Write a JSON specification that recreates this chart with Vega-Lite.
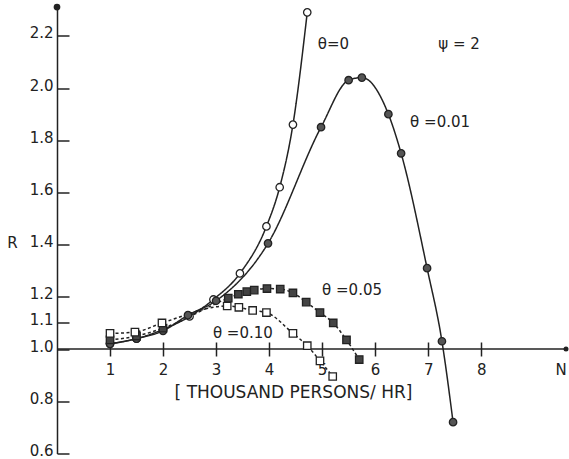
{
  "$schema": "https://vega.github.io/schema/vega-lite/v6.json",
  "width": 509,
  "height": 449,
  "autosize": {"type": "none"},
  "padding": {"left": 57, "top": 4.5, "right": 3, "bottom": 5.5},
  "background": "white",
  "config": {"view": {"stroke": null}, "font": "DejaVu Sans"},
  "datasets": {
    "curves": [
      {"theta": "0", "N": 1, "R": 1.02},
      {"theta": "0", "N": 1.5, "R": 1.04},
      {"theta": "0", "N": 2, "R": 1.075},
      {"theta": "0", "N": 2.5, "R": 1.125},
      {"theta": "0", "N": 2.95, "R": 1.19},
      {"theta": "0", "N": 3.45, "R": 1.29},
      {"theta": "0", "N": 3.95, "R": 1.47},
      {"theta": "0", "N": 4.2, "R": 1.62},
      {"theta": "0", "N": 4.45, "R": 1.86},
      {"theta": "0", "N": 4.72, "R": 2.29},
      {"theta": "0.01", "N": 1, "R": 1.02},
      {"theta": "0.01", "N": 1.5, "R": 1.04},
      {"theta": "0.01", "N": 2, "R": 1.07},
      {"theta": "0.01", "N": 2.47, "R": 1.13},
      {"theta": "0.01", "N": 3, "R": 1.185},
      {"theta": "0.01", "N": 3.98, "R": 1.405},
      {"theta": "0.01", "N": 4.98, "R": 1.85},
      {"theta": "0.01", "N": 5.5, "R": 2.03},
      {"theta": "0.01", "N": 5.75, "R": 2.04},
      {"theta": "0.01", "N": 6.25, "R": 1.9},
      {"theta": "0.01", "N": 6.49, "R": 1.75},
      {"theta": "0.01", "N": 6.98, "R": 1.31},
      {"theta": "0.01", "N": 7.26, "R": 1.03},
      {"theta": "0.01", "N": 7.47, "R": 0.72},
      {"theta": "0.05", "N": 1, "R": 1.035},
      {"theta": "0.05", "N": 1.5, "R": 1.05},
      {"theta": "0.05", "N": 2, "R": 1.08},
      {"theta": "0.05", "N": 3.23, "R": 1.195},
      {"theta": "0.05", "N": 3.42, "R": 1.21},
      {"theta": "0.05", "N": 3.58, "R": 1.22},
      {"theta": "0.05", "N": 3.72, "R": 1.226},
      {"theta": "0.05", "N": 3.96, "R": 1.232},
      {"theta": "0.05", "N": 4.21, "R": 1.23},
      {"theta": "0.05", "N": 4.45, "R": 1.215},
      {"theta": "0.05", "N": 4.7, "R": 1.18},
      {"theta": "0.05", "N": 4.96, "R": 1.14},
      {"theta": "0.05", "N": 5.21, "R": 1.1},
      {"theta": "0.05", "N": 5.46, "R": 1.035},
      {"theta": "0.05", "N": 5.7, "R": 0.96},
      {"theta": "0.10", "N": 1, "R": 1.06},
      {"theta": "0.10", "N": 1.47, "R": 1.065},
      {"theta": "0.10", "N": 1.98, "R": 1.1},
      {"theta": "0.10", "N": 3.21, "R": 1.165},
      {"theta": "0.10", "N": 3.43, "R": 1.16},
      {"theta": "0.10", "N": 3.69, "R": 1.148},
      {"theta": "0.10", "N": 3.95, "R": 1.14},
      {"theta": "0.10", "N": 4.45, "R": 1.06},
      {"theta": "0.10", "N": 4.72, "R": 1.013},
      {"theta": "0.10", "N": 4.96, "R": 0.955},
      {"theta": "0.10", "N": 5.2, "R": 0.895}
    ],
    "labels": [
      {"text": "θ=0", "N": 4.92, "R": 2.17},
      {"text": "ψ = 2", "N": 7.19, "R": 2.17},
      {"text": "θ =0.01", "N": 6.66, "R": 1.87},
      {"text": "θ =0.05", "N": 5.0, "R": 1.226},
      {"text": "θ =0.10", "N": 2.94, "R": 1.06},
      {"text": "N", "N": 9.4, "R": 0.92}
    ],
    "decor": [
      {"kind": "arrow", "N": 0, "R": 2.31},
      {"kind": "dot", "N": 9.6, "R": 1.0}
    ]
  },
  "layer": [
    {
      "data": {"values": [{"R": 1.0}]},
      "mark": {"type": "rule", "stroke": "#222", "strokeWidth": 1.5},
      "encoding": {
        "y": {
          "field": "R", "type": "quantitative",
          "scale": {"domain": [0.6, 2.32], "nice": false, "zero": false},
          "axis": {
            "values": [0.6, 0.8, 1.0, 1.1, 1.2, 1.4, 1.6, 1.8, 2.0, 2.2],
            "format": ".1f",
            "grid": false,
            "domainColor": "#222", "domainWidth": 1.5,
            "tickColor": "#222", "tickWidth": 1.5, "tickSize": -12,
            "labelPadding": 16, "labelFontSize": 15, "labelColor": "#222", "labelOffset": -3,
            "title": "R", "titleAngle": 0, "titleFontSize": 15, "titleFontWeight": "normal",
            "titleColor": "#222", "titleX": -45, "titleY": 238, "titleAlign": "center", "titleBaseline": "middle"
          }
        }
      }
    },
    {
      "data": {"name": "curves"},
      "mark": {"type": "line", "interpolate": "monotone", "stroke": "#222", "strokeWidth": 1.5},
      "encoding": {
        "x": {
          "field": "N", "type": "quantitative",
          "scale": {"domain": [0, 9.6], "nice": false, "zero": false},
          "axis": {
            "values": [1, 2, 3, 4, 5, 6, 7, 8],
            "format": "d",
            "grid": false, "domain": false,
            "offset": -111.5,
            "tickColor": "#222", "tickWidth": 1.5, "tickSize": 14,
            "labelPadding": 6, "labelFontSize": 15, "labelColor": "#222",
            "title": "[ THOUSAND PERSONS/ HR]", "titleFontSize": 17, "titleFontWeight": "normal",
            "titleColor": "#222", "titleX": 236, "titleY": 50, "titleAlign": "center", "titleBaseline": "middle"
          }
        },
        "y": {"field": "R", "type": "quantitative"},
        "detail": {"field": "theta"},
        "strokeDash": {
          "field": "theta", "type": "nominal",
          "scale": {"domain": ["0", "0.01", "0.05", "0.10"], "range": [[1, 0], [1, 0], [3, 2.5], [3, 2.5]]},
          "legend": null
        }
      }
    },
    {
      "data": {"name": "curves"},
      "mark": {"type": "point", "filled": false, "stroke": "#222", "strokeWidth": 1.3, "opacity": 1, "size": 55},
      "encoding": {
        "x": {"field": "N", "type": "quantitative"},
        "y": {"field": "R", "type": "quantitative"},
        "shape": {
          "field": "theta", "type": "nominal",
          "scale": {"domain": ["0", "0.01", "0.05", "0.10"], "range": ["circle", "circle", "square", "square"]},
          "legend": null
        },
        "fill": {
          "field": "theta", "type": "nominal",
          "scale": {"domain": ["0", "0.01", "0.05", "0.10"], "range": ["white", "#555", "#444", "white"]},
          "legend": null
        }
      }
    },
    {
      "data": {"name": "labels"},
      "mark": {"type": "text", "align": "left", "baseline": "middle", "fontSize": 15, "fill": "#222"},
      "encoding": {
        "x": {"field": "N", "type": "quantitative"},
        "y": {"field": "R", "type": "quantitative"},
        "text": {"field": "text"}
      }
    },
    {
      "data": {"name": "decor"},
      "mark": {"type": "point", "filled": true, "fill": "#222", "stroke": null, "opacity": 1},
      "encoding": {
        "x": {"field": "N", "type": "quantitative"},
        "y": {"field": "R", "type": "quantitative"},
        "shape": {
          "field": "kind", "type": "nominal",
          "scale": {"domain": ["arrow", "dot"], "range": ["triangle-up", "circle"]},
          "legend": null
        },
        "size": {
          "field": "kind", "type": "nominal",
          "scale": {"domain": ["arrow", "dot"], "range": [45, 25]},
          "legend": null
        }
      }
    }
  ]
}
